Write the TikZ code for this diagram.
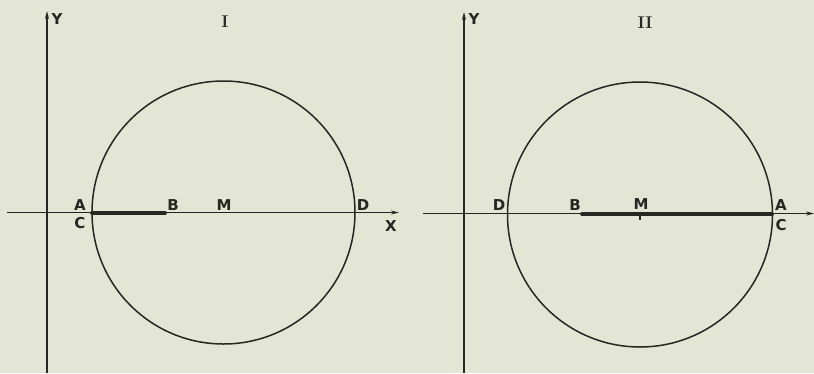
\documentclass[tikz,border=0pt]{standalone}
\usepackage{fontspec}
\setsansfont{DejaVu Sans}
\usetikzlibrary{arrows.meta}
\definecolor{paper}{HTML}{E3E5D5}
\definecolor{ink}{HTML}{262623}
\begin{document}
\begin{tikzpicture}[x=1pt,y=-1pt,
  axis/.style={draw=ink,line width=1.4pt,-{Stealth[length=8pt,width=4pt]}},
  circ/.style={draw=ink,line width=1.5pt},
  bar/.style={draw=ink,line width=3.8pt,line cap=round},
  lbl/.style={inner sep=0pt,text=ink,font=\sffamily\bfseries\fontsize{15}{15}\selectfont},
  num/.style={inner sep=0pt,text=ink,font=\rmfamily\bfseries\fontsize{17}{17}\selectfont}]
\fill[paper] (0,0) rectangle (814,373);
\useasboundingbox (0,0) rectangle (814,373);
% ---------- Panel I ----------
\coordinate (yb1) at (47,373);
\coordinate (yt1) at (47,11);
\coordinate (xl1) at (7,212.5);
\coordinate (xr1) at (399,212.5);
\draw[axis] (yb1) -- (yt1);
\draw[axis] (xl1) -- (xr1);
\coordinate (M1) at (223.5,212.5);
\draw[circ] (M1) circle[radius=131.5];
\coordinate (A1) at (92,213);
\coordinate (B1) at (165,213);
\draw[bar] (A1) -- (B1);
\node[lbl] (Y1) at (57,19) {Y};
\node[num] (I) at (225,22) {I};
\node[lbl] (lA1) at (80,205) {A};
\node[lbl] (lC1) at (80,223.5) {C};
\node[lbl] (lB1) at (173,205) {B};
\node[lbl] (lM1) at (224,205) {M};
\node[lbl] (lD1) at (363,205) {D};
\node[lbl] (lX1) at (391,226) {X};
% ---------- Panel II ----------
\coordinate (yb2) at (464,373);
\coordinate (yt2) at (464,12);
\coordinate (xl2) at (423,213.5);
\coordinate (xr2) at (814,213.5);
\draw[axis] (yb2) -- (yt2);
\draw[axis] (xl2) -- (xr2);
\coordinate (M2) at (640,214.5);
\draw[circ] (M2) circle[radius=132.5];
\coordinate (B2) at (582,214);
\coordinate (A2) at (772,214);
\draw[bar] (B2) -- (A2);
\draw[draw=ink,line width=1.2pt] ([yshift=-5]M2) -- ([yshift=0]M2);
\node[lbl] (Y2) at (474,19) {Y};
\node[num] (II) at (645,23) {II};
\node[lbl] (lD2) at (499,205) {D};
\node[lbl] (lB2) at (575,205) {B};
\node[lbl] (lM2) at (641,204) {M};
\node[lbl] (lA2) at (781,205) {A};
\node[lbl] (lC2) at (781,225) {C};
\end{tikzpicture}
\end{document}
